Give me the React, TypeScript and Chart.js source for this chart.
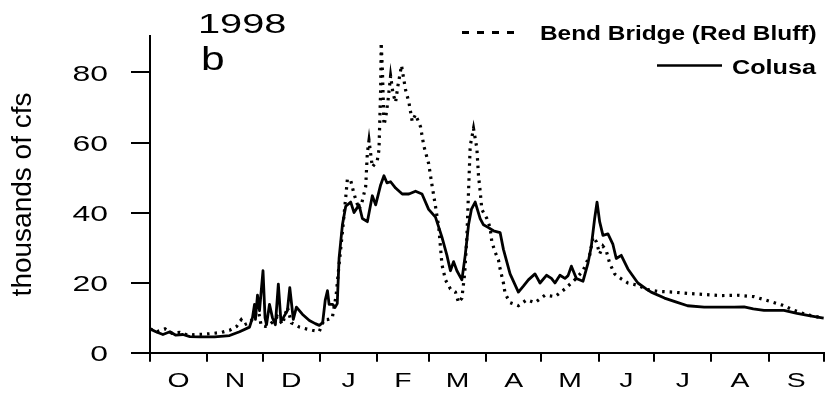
import React, { useEffect, useRef } from "react";
import { Chart, registerables } from "chart.js";

Chart.register(...registerables);

// Water year Oct 1997 – Sep 1998; x values are days since Oct 1.
const MONTH_LABELS = ["O", "N", "D", "J", "F", "M", "A", "M", "J", "J", "A", "S"];
const MONTH_STARTS = [0, 31, 61, 92, 123, 151, 182, 212, 243, 273, 304, 335, 365];
const Y_TICKS = [0, 20, 40, 60, 80];

// Sacramento River at Colusa, thousands of cfs
const colusaDays = [
  0, 3.2, 7.0, 10.8, 14.0, 17.8, 21.6, 27.0, 35.0, 43.1, 48.5, 53.9, 55.5, 56.6, 57.1, 58.2, 59.3,
  61.2, 62.3, 63.1, 64.7, 66.3, 67.9, 69.5, 70.9, 72.2, 74.4, 75.7, 77.6, 79.3, 82.5, 86.3, 89.5,
  91.7, 93.5, 94.9, 96.1, 97.0, 98.8, 100.3, 101.4, 102.4, 104.2, 106.0, 108.7, 110.5, 113.2,
  115.0, 117.7, 120.4, 122.2, 124.9, 126.7, 128.3, 130.3, 133.0, 136.6, 140.2, 143.8, 147.3,
  150.9, 154.6, 158.1, 160.8, 162.7, 164.4, 166.2, 168.9, 170.7, 172.5, 174.1, 176.1, 178.8,
  180.6, 183.3, 186.0, 189.6, 191.4, 195.0, 199.5, 202.2, 204.9, 208.5, 211.2, 214.7, 217.4,
  219.3, 222.0, 224.7, 226.4, 228.2, 230.9, 234.5, 237.2, 239.0, 240.8, 242.1, 243.5, 245.3,
  248.0, 250.7, 252.5, 255.2, 258.8, 264.2, 268.7, 271.4, 278.6, 284.7, 291.1, 300.1, 307.3,
  316.3, 321.7, 326.7, 332.5, 343.3, 350.4, 357.6, 364.8,
];
const colusaFlow = [
  6.8, 6.0, 5.2, 6.0, 5.0, 5.2, 4.6, 4.5, 4.5, 4.9, 6.0, 7.3, 10.0, 13.8, 9.5, 16.4, 12.0,
  23.4, 10.0, 8.0, 13.8, 10.0, 8.0, 19.6, 9.0, 10.0, 12.0, 18.6, 9.5, 13.0, 11.0, 9.2, 8.3,
  7.8, 8.6, 15.0, 17.7, 13.8, 13.8, 13.0, 14.0, 27.0, 36.5, 41.8, 43.0, 40.0, 42.2,
  38.3, 37.4, 44.8, 42.2, 47.9, 50.5, 48.5, 48.8, 47.0, 45.3, 45.3, 46.1, 45.3,
  40.9, 38.7, 33.0, 27.8, 23.4, 26.0, 23.4, 20.8, 27.8, 36.5, 41.0, 43.0, 38.3,
  36.5, 35.7, 34.8, 34.3, 29.5, 22.5, 17.3, 19.0, 20.8, 22.5, 19.9, 22.1, 21.2,
  19.9, 22.1, 21.2, 22.0, 24.7, 21.2, 20.4, 25.6, 30.4, 38.3, 43.0, 37.4, 33.5,
  33.9, 30.9, 26.9, 27.8, 23.9, 19.9, 18.2, 17.3, 15.6, 14.5, 13.4, 13.0, 13.0,
  13.0, 13.1, 12.5, 12.1, 12.1, 11.2, 10.5, 9.9,
];

// Sacramento River at Bend Bridge (Red Bluff), thousands of cfs
const bendDays = [
  0, 3.8, 8.1, 11.9, 16.2, 20.5, 25.3, 29.7, 34.0, 38.8, 43.1, 46.9, 49.4, 51.2, 53.9, 56.6,
  58.4, 60.2, 62.5, 64.7, 66.9, 69.0, 71.7, 74.4, 76.6, 78.7, 80.9, 84.6, 87.9, 91.7, 94.3,
  96.5, 98.7, 100.8, 102.4, 104.1, 106.0, 106.9, 108.7, 110.5, 113.2, 114.8, 116.8, 117.7,
  118.6, 120.4, 123.1, 124.0, 124.9, 125.2, 125.9, 126.7, 127.6, 128.9, 130.3, 131.6, 133.0,
  134.2, 136.2, 138.4, 140.2, 142.0, 143.8, 146.5, 148.3, 150.9, 152.7, 154.6, 156.4, 158.1,
  160.0, 162.7, 165.4, 167.1, 168.9, 170.4, 171.6, 172.5, 173.4, 175.2, 177.0, 177.9, 178.8,
  179.7, 182.4, 184.2, 185.1, 186.9, 188.7, 189.6, 191.4, 192.3, 195.0, 199.5, 204.0, 208.5,
  213.9, 219.3, 224.7, 230.0, 234.5, 238.1, 239.9, 241.7, 243.5, 245.3, 247.1, 248.9, 251.6,
  253.4, 258.8, 264.2, 269.6, 275.0, 283.0, 292.1, 301.0, 309.1, 318.1, 327.1, 334.2, 342.3,
  348.7, 355.9, 364.8,
];
const bendFlow = [
  6.8, 6.0, 6.8, 5.5, 5.8, 5.0, 5.2, 5.3, 5.5, 5.8, 6.4, 7.5, 9.4, 8.0, 8.6, 10.3,
  13.0, 7.7, 7.5, 8.0, 9.0, 10.3, 8.1, 13.0, 8.5, 8.0, 7.3, 6.8, 6.4, 6.1, 9.4,
  9.5, 9.9, 16.4, 25.2, 33.9, 44.4, 49.6, 49.2, 45.3, 40.9, 43.0, 47.4, 57.0,
  60.6, 53.0, 54.9, 57.9, 75.0, 88.5, 80.0, 65.0, 67.0, 72.0, 79.0, 74.0, 71.5,
  76.0, 82.0, 75.0, 71.5, 66.0, 68.0, 64.5, 59.0, 54.0, 47.9, 41.8, 35.7, 25.2,
  20.8, 18.2, 17.3, 14.3, 15.6, 22.5, 33.0, 46.0, 59.0, 64.0, 58.4, 50.5, 46.1,
  40.9, 38.3, 35.7, 31.7, 28.7, 26.5, 23.9, 19.9, 16.9, 14.3, 13.4, 15.1, 14.3,
  16.4, 16.0, 18.2, 20.8, 23.4, 27.8, 33.0, 31.7, 28.2, 30.4, 29.1, 25.6, 22.5,
  21.7, 19.9, 19.2, 18.0, 17.5, 17.3, 16.9, 16.6, 16.3, 16.4, 16.0, 14.9, 13.6,
  12.1, 10.8, 9.9,
];

const FONT = '"Liberation Sans", Arial, Helvetica, sans-serif';

const toPoints = (xs: number[], ys: number[]) => xs.map((x, i) => ({ x, y: ys[i] }));

// Month label positions sit halfway between month boundaries.
const monthMids = MONTH_LABELS.map((_, i) => (MONTH_STARTS[i] + MONTH_STARTS[i + 1]) / 2);
const boundarySet = new Set(MONTH_STARTS);

// Text in this figure is set in a wide face: draw it horizontally stretched.
function wideText(
  ctx: CanvasRenderingContext2D,
  text: string,
  x: number,
  y: number,
  font: string,
  stretch: number,
  align: CanvasTextAlign = "left",
  baseline: CanvasTextBaseline = "alphabetic"
) {
  ctx.save();
  ctx.font = font;
  ctx.textAlign = align;
  ctx.textBaseline = baseline;
  ctx.translate(x, y);
  ctx.scale(stretch, 1);
  ctx.fillText(text, 0, 0);
  ctx.restore();
}

const textPlugin = {
  id: "panelText",
  afterDraw(chart: any) {
    const ctx: CanvasRenderingContext2D = chart.ctx;
    const xScale = chart.scales.x;
    const yScale = chart.scales.y;
    ctx.save();
    ctx.fillStyle = "#000";
    ctx.strokeStyle = "#000";

    // Axis tick labels, positioned by the chart's own scales
    const xLabelY = xScale.top + 34;
    MONTH_LABELS.forEach((label, i) => {
      wideText(ctx, label, xScale.getPixelForValue(monthMids[i]), xLabelY, `21px ${FONT}`, 1.35, "center");
    });
    const yLabelX = yScale.right - 42;
    Y_TICKS.forEach((v) => {
      wideText(ctx, String(v), yLabelX, yScale.getPixelForValue(v) + 8.5, `22px ${FONT}`, 1.45, "right");
    });

    // Panel heading
    wideText(ctx, "1998", 198, 33, `28px ${FONT}`, 1.42);
    wideText(ctx, "b", 201, 70, `34px ${FONT}`, 1.25);

    // Legend
    ctx.lineWidth = 3;
    ctx.setLineDash([7, 8]);
    ctx.beginPath();
    ctx.moveTo(462, 32.5);
    ctx.lineTo(520, 32.5);
    ctx.stroke();
    ctx.setLineDash([]);
    ctx.lineWidth = 2.5;
    ctx.beginPath();
    ctx.moveTo(657, 65.5);
    ctx.lineTo(722, 65.5);
    ctx.stroke();

    wideText(ctx, "Bend Bridge (Red Bluff)", 540, 40, `bold 20px ${FONT}`, 1.22);
    wideText(ctx, "Colusa", 732, 73.5, `bold 20px ${FONT}`, 1.26);
    ctx.restore();
  },
};

export default function App() {
  const canvasRef = useRef<HTMLCanvasElement | null>(null);

  useEffect(() => {
    if (!canvasRef.current) return;
    Chart.defaults.color = "#000";
    Chart.defaults.font.family = FONT;

    const chart = new Chart(canvasRef.current, {
      type: "line",
      data: {
        datasets: [
          {
            label: "Bend Bridge (Red Bluff)",
            data: toPoints(bendDays, bendFlow),
            borderColor: "#000",
            borderWidth: 3.2,
            borderDash: [2.5, 5],
            pointRadius: 0,
            tension: 0,
            fill: false,
          },
          {
            label: "Colusa",
            data: toPoints(colusaDays, colusaFlow),
            borderColor: "#000",
            borderWidth: 2.8,
            pointRadius: 0,
            tension: 0,
            fill: false,
            borderJoinStyle: "round",
          },
        ],
      },
      options: {
        responsive: false,
        animation: false,
        devicePixelRatio: 1,
        layout: { padding: { top: 8, right: 3, left: 0, bottom: 0 } },
        plugins: {
          legend: { display: false },
          tooltip: { enabled: false },
        },
        scales: {
          x: {
            type: "linear",
            position: "bottom",
            min: 0,
            max: 365,
            border: { display: true, color: "#000", width: 2 },
            grid: {
              drawOnChartArea: false,
              drawTicks: true,
              tickLength: 9,
              lineWidth: 2,
              color: (c: any) =>
                c.tick && boundarySet.has(c.tick.value) ? "#000" : "rgba(0,0,0,0)",
            },
            ticks: {
              autoSkip: false,
              maxRotation: 0,
              minRotation: 0,
              padding: 6,
              font: { size: 21, family: FONT },
              color: "rgba(0,0,0,0)",
              callback: (v: any) => {
                const i = monthMids.indexOf(Number(v));
                return i >= 0 ? MONTH_LABELS[i] : "";
              },
            },
            afterBuildTicks: (scale: any) => {
              scale.ticks = [...MONTH_STARTS, ...monthMids]
                .sort((a, b) => a - b)
                .map((value) => ({ value }));
            },
            afterFit: (scale: any) => {
              scale.height = 41.3;
            },
          },
          y: {
            type: "linear",
            min: 0,
            max: 90.35,
            border: { display: true, color: "#000", width: 2 },
            grid: {
              drawOnChartArea: false,
              drawTicks: true,
              tickLength: 19,
              lineWidth: 2,
              color: "#000",
            },
            ticks: {
              padding: 23,
              font: { size: 22, family: FONT },
              color: "rgba(0,0,0,0)",
            },
            afterBuildTicks: (scale: any) => {
              scale.ticks = Y_TICKS.map((value) => ({ value }));
            },
            afterFit: (scale: any) => {
              scale.width = 150;
            },
            title: {
              display: true,
              text: "thousands of cfs",
              color: "#000",
              font: { size: 28, family: FONT, lineHeight: 1.2 },
              padding: { top: 6, bottom: 0 },
            },
          },
        },
      },
      plugins: [textPlugin],
    });

    return () => chart.destroy();
  }, []);

  return (
    <div style={{ position: "absolute", left: 0, top: 0, width: 830, height: 394, background: "#fff" }}>
      <canvas ref={canvasRef} width={830} height={394} style={{ display: "block" }} />
    </div>
  );
}
